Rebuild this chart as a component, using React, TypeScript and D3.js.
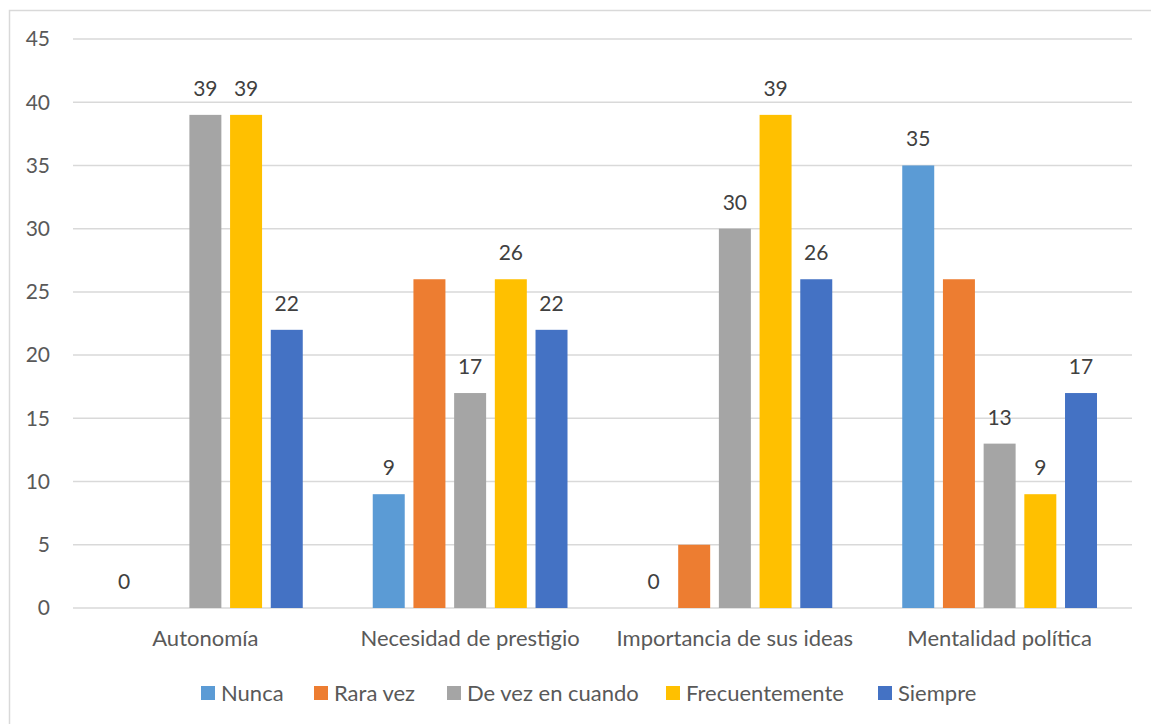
import * as d3 from 'd3';
import { useEffect, useRef } from 'react';

const categories = ['Autonomía', 'Necesidad de prestigio', 'Importancia de sus ideas', 'Mentalidad política'];
const seriesNames = ['Nunca', 'Rara vez', 'De vez en cuando', 'Frecuentemente', 'Siempre'];
const nunca = [0, 9, 0, 35];
const raraVez = [0, 26, 5, 26];
const deVez = [39, 17, 30, 13];
const frecuentemente = [39, 26, 39, 9];
const siempre = [22, 22, 26, 17];
const showLabels = [true, false, true, true, true];
const colors = ['#5B9BD5', '#ED7D31', '#A5A5A5', '#FFC000', '#4472C4'];
const yTicks = [0, 5, 10, 15, 20, 25, 30, 35, 40, 45];

const W = 1151;
const H = 724;
const FONT = 'Lato, "Open Sans", sans-serif';

export default function App() {
  const ref = useRef<SVGSVGElement>(null);

  useEffect(() => {
    if (!ref.current) return;
    const svg = d3.select(ref.current);
    svg.selectAll('*').remove();

    const values = [nunca, raraVez, deVez, frecuentemente, siempre];

    svg.append('rect').attr('width', W).attr('height', H).attr('fill', '#fff');
    // marco del gráfico
    svg.append('rect')
      .attr('x', 9.5).attr('y', 10.5)
      .attr('width', W + 10).attr('height', H + 10)
      .attr('fill', 'none').attr('stroke', '#d9d9d9').attr('stroke-width', 1.5);

    const left = 73, right = 1132, top = 39, bottom = 608;

    const y = d3.scaleLinear().domain([0, 45]).range([bottom, top]);
    const x0 = d3.scaleBand<string>().domain(categories).range([left, right]).padding(0);
    const x1 = d3.scaleBand<string>().domain(seriesNames)
      .range([0, x0.bandwidth()])
      .paddingInner(0.214)
      .paddingOuter(0.86);

    // rejilla
    svg.append('g').selectAll('line').data(yTicks).join('line')
      .attr('x1', left).attr('x2', right)
      .attr('y1', d => y(d)).attr('y2', d => y(d))
      .attr('stroke', '#d9d9d9').attr('stroke-width', 1.5);

    svg.append('g').selectAll('text').data(yTicks).join('text')
      .attr('x', 50).attr('y', d => y(d))
      .attr('dy', '0.35em')
      .attr('text-anchor', 'end')
      .attr('font-family', FONT).attr('font-size', 21)
      .attr('fill', '#595959')
      .text(d => d);

    // barras
    seriesNames.forEach((s, si) => {
      const g = svg.append('g');
      g.selectAll('rect').data(values[si]).join('rect')
        .attr('x', (_, i) => x0(categories[i])! + x1(s)!)
        .attr('y', d => y(d))
        .attr('width', x1.bandwidth())
        .attr('height', d => bottom - y(d))
        .attr('fill', colors[si]);
      if (showLabels[si]) {
        g.selectAll('text').data(values[si]).join('text')
          .attr('x', (_, i) => x0(categories[i])! + x1(s)! + x1.bandwidth() / 2)
          .attr('y', d => y(d) - 19)
          .attr('text-anchor', 'middle')
          .attr('font-family', FONT).attr('font-size', 21)
          .attr('fill', '#404040')
          .text(d => d);
      }
    });

    // etiquetas de categoría
    svg.append('g').selectAll('text').data(categories).join('text')
      .attr('x', d => x0(d)! + x0.bandwidth() / 2)
      .attr('y', 646)
      .attr('text-anchor', 'middle')
      .attr('font-family', FONT).attr('font-size', 22)
      .attr('fill', '#595959')
      .text(d => d);

    // leyenda
    const legendX = [201, 314, 447, 666, 878];
    const lg = svg.append('g');
    seriesNames.forEach((s, i) => {
      lg.append('rect')
        .attr('x', legendX[i]).attr('y', 686)
        .attr('width', 14).attr('height', 14)
        .attr('fill', colors[i]);
      lg.append('text')
        .attr('x', legendX[i] + 20).attr('y', 693)
        .attr('dy', '0.35em')
        .attr('font-family', FONT).attr('font-size', 22)
        .attr('fill', '#595959')
        .text(s);
    });
  }, []);

  return (
    <svg ref={ref} width={W} height={H}
      style={{ position: 'absolute', left: 0, top: 0, display: 'block' }} />
  );
}
